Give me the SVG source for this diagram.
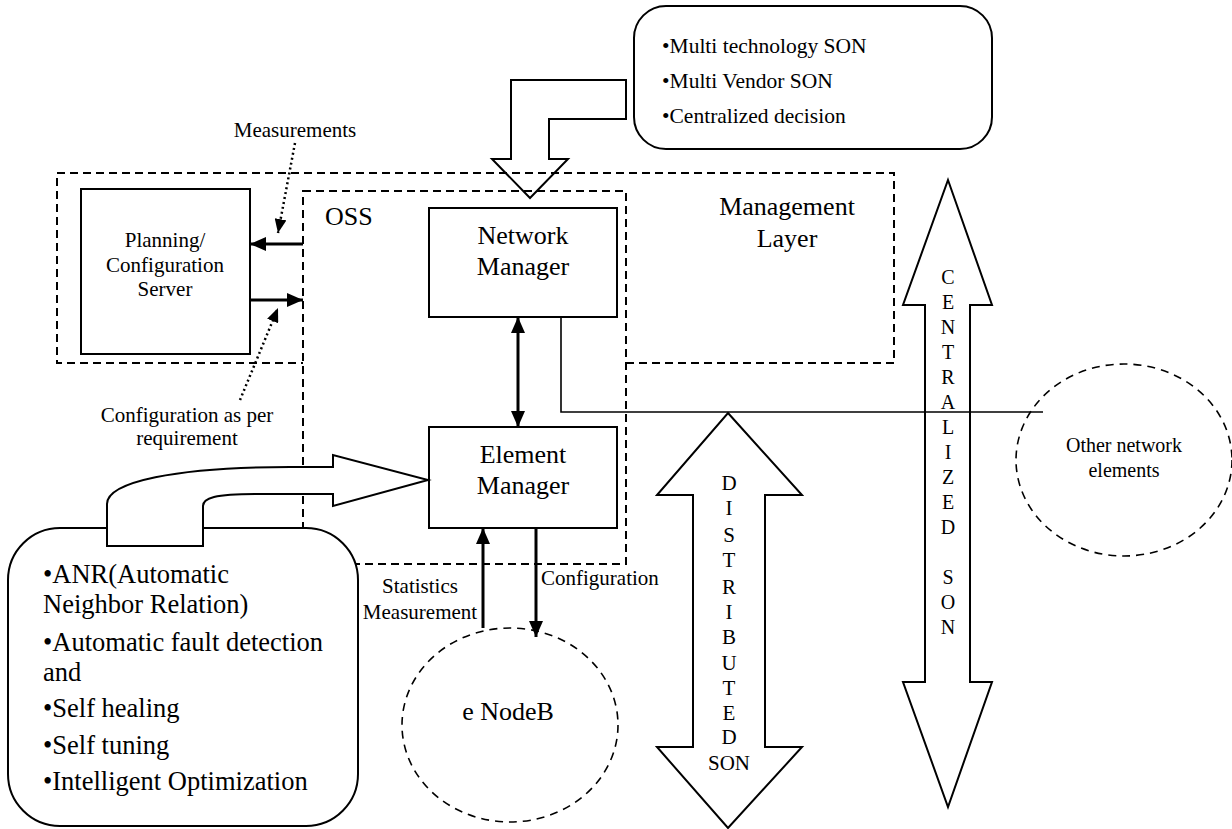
<svg xmlns="http://www.w3.org/2000/svg" width="1232" height="829" viewBox="0 0 1232 829">
<style>
text{font-family:"Liberation Serif","Times New Roman",serif;fill:#000}
.t21{font-size:21px}
.t26{font-size:26px}
.t20{font-size:20px}
.mid{text-anchor:middle}
.box{fill:#fff;stroke:#000;stroke-width:2}
.dash{fill:none;stroke:#000;stroke-width:2;stroke-dasharray:8 5}
.dashw{fill:#fff;stroke:#000;stroke-width:2;stroke-dasharray:8 5}
.ell{fill:none;stroke:#000;stroke-width:1.6;stroke-dasharray:8 6}
.blk{fill:#fff;stroke:#000;stroke-width:2;stroke-linejoin:miter}
.blkn{fill:none;stroke:#000;stroke-width:2;stroke-linejoin:miter}
.arr{fill:none;stroke:#000;stroke-width:3}
.dot{fill:none;stroke:#000;stroke-width:2.5;stroke-dasharray:2 3}
.thin{fill:none;stroke:#000;stroke-width:1.6}
</style>
<defs>
<marker id="ah" viewBox="0 0 16 14" refX="16" refY="7" markerWidth="16" markerHeight="14" markerUnits="userSpaceOnUse" orient="auto-start-reverse">
<path d="M0,0 L16,7 L0,14 Z" fill="#000"/>
</marker>
<marker id="ahs" viewBox="0 0 14 12" refX="14" refY="6" markerWidth="14" markerHeight="12" markerUnits="userSpaceOnUse" orient="auto">
<path d="M0,0 L14,6 L0,12 Z" fill="#000"/>
</marker>
</defs>

<g id="management-layer">
<rect x="57" y="173" width="837" height="190" class="dash"/>
<text class="t26 mid" x="787" y="215">Management</text>
<text class="t26 mid" x="787" y="247">Layer</text>
</g>

<g id="oss">
<rect x="303" y="191" width="323" height="373" class="dashw"/>
<text class="t26" x="325" y="225">OSS</text>
</g>

<g id="top-son-box">
<rect x="634" y="6" width="358" height="143" rx="32" ry="32" class="box"/>
<text style="font-size:21.5px" x="662" y="53">•Multi technology SON</text>
<text style="font-size:21.5px" x="662" y="88">•Multi Vendor SON</text>
<text style="font-size:21.5px" x="662" y="123">•Centralized decision</text>
</g>

<g id="planning-server">
<rect x="81" y="189" width="169" height="165" class="box"/>
<text class="t21 mid" x="165" y="247">Planning/</text>
<text class="t21 mid" x="165" y="272">Configuration</text>
<text class="t21 mid" x="165" y="296">Server</text>
</g>

<g id="network-manager">
<rect x="429" y="208" width="188" height="109" class="box"/>
<text class="t26 mid" x="523" y="244">Network</text>
<text class="t26 mid" x="523" y="275">Manager</text>
</g>

<g id="element-manager">
<rect x="429" y="427" width="188" height="101" class="box"/>
<text class="t26 mid" x="523" y="463">Element</text>
<text class="t26 mid" x="523" y="494">Manager</text>
</g>

<g id="distributed-son">
<polygon points="728,413 802,495 765,495 765,747 802,747 728,828 657,747 693,747 693,495 657,495" class="blkn"/>
<g class="mid" style="font-size:21px">
<text x="729" y="490">D</text>
<text x="729" y="515">I</text>
<text x="729" y="542">S</text>
<text x="729" y="567">T</text>
<text x="729" y="594">R</text>
<text x="729" y="619">I</text>
<text x="729" y="644">B</text>
<text x="729" y="670">U</text>
<text x="729" y="695">T</text>
<text x="729" y="720">E</text>
<text x="729" y="744">D</text>
<text x="729" y="770">SON</text>
</g>
</g>

<g id="centralized-son">
<polygon points="948,180 992,305 970,305 970,682 992,682 948,807 903,682 925,682 925,305 903,305" class="blkn"/>
<g class="mid t20">
<text x="948" y="284">C</text>
<text x="948" y="309">E</text>
<text x="948" y="334">N</text>
<text x="948" y="359">T</text>
<text x="948" y="384">R</text>
<text x="948" y="409">A</text>
<text x="948" y="434">L</text>
<text x="948" y="459">I</text>
<text x="948" y="484">Z</text>
<text x="948" y="509">E</text>
<text x="948" y="534">D</text>
<text x="948" y="584">S</text>
<text x="948" y="609">O</text>
<text x="948" y="634">N</text>
</g>
</g>

<g id="other-network-elements">
<ellipse cx="1124" cy="460" rx="108" ry="96" class="ell"/>
<text class="t20 mid" x="1124" y="452">Other network</text>
<text class="t20 mid" x="1124" y="477">elements</text>
</g>

<g id="enodeb">
<ellipse cx="510" cy="725" rx="108" ry="97" class="ell"/>
<text class="t26 mid" x="508" y="720">e NodeB</text>
</g>

<g id="son-features-box">
<rect x="8" y="528" width="350" height="298" rx="52" ry="52" class="box"/>
<g style="font-size:26.5px">
<text x="43" y="583">•ANR(Automatic</text>
<text x="43" y="613">Neighbor Relation)</text>
<text x="43" y="651">•Automatic fault detection</text>
<text x="43" y="681">and</text>
<text x="43" y="717">•Self healing</text>
<text x="43" y="754">•Self tuning</text>
<text x="43" y="790">•Intelligent Optimization</text>
</g>
</g>

<g id="connectors">
<polygon points="626,80 511,80 511,159 492,159 530,198 568,159 549,159 549,119 626,119" class="blkn"/>
<path d="M107,546 L107,504 C107,482 175,467 290,467 L333,467 L333,455 L428,480 L333,506 L333,494 L255,494 C215,494 203,498 203,506 L203,546 Z" class="blk"/>
<line x1="518" y1="317" x2="518" y2="427" class="arr" marker-start="url(#ah)" marker-end="url(#ah)"/>
<polyline points="561,317 561,412 1043,412" class="thin"/>
<line x1="303" y1="244" x2="250" y2="244" class="arr" marker-end="url(#ah)"/>
<line x1="250" y1="300" x2="303" y2="300" class="arr" marker-end="url(#ah)"/>
<line x1="295" y1="143" x2="278" y2="233" class="dot" marker-end="url(#ahs)"/>
<line x1="240" y1="400" x2="278" y2="308" class="dot" marker-end="url(#ahs)"/>
<line x1="483" y1="628" x2="483" y2="528" class="arr" marker-end="url(#ah)"/>
<line x1="536" y1="528" x2="536" y2="637" class="arr" marker-end="url(#ah)"/>
<text class="t21 mid" x="295" y="137">Measurements</text>
<text class="t21 mid" x="187" y="422">Configuration as per</text>
<text class="t21 mid" x="187" y="445">requirement</text>
<text class="t21 mid" x="420" y="593">Statistics</text>
<text class="t21 mid" x="420" y="619">Measurement</text>
<text class="t21" x="541" y="585">Configuration</text>
</g>
</svg>
